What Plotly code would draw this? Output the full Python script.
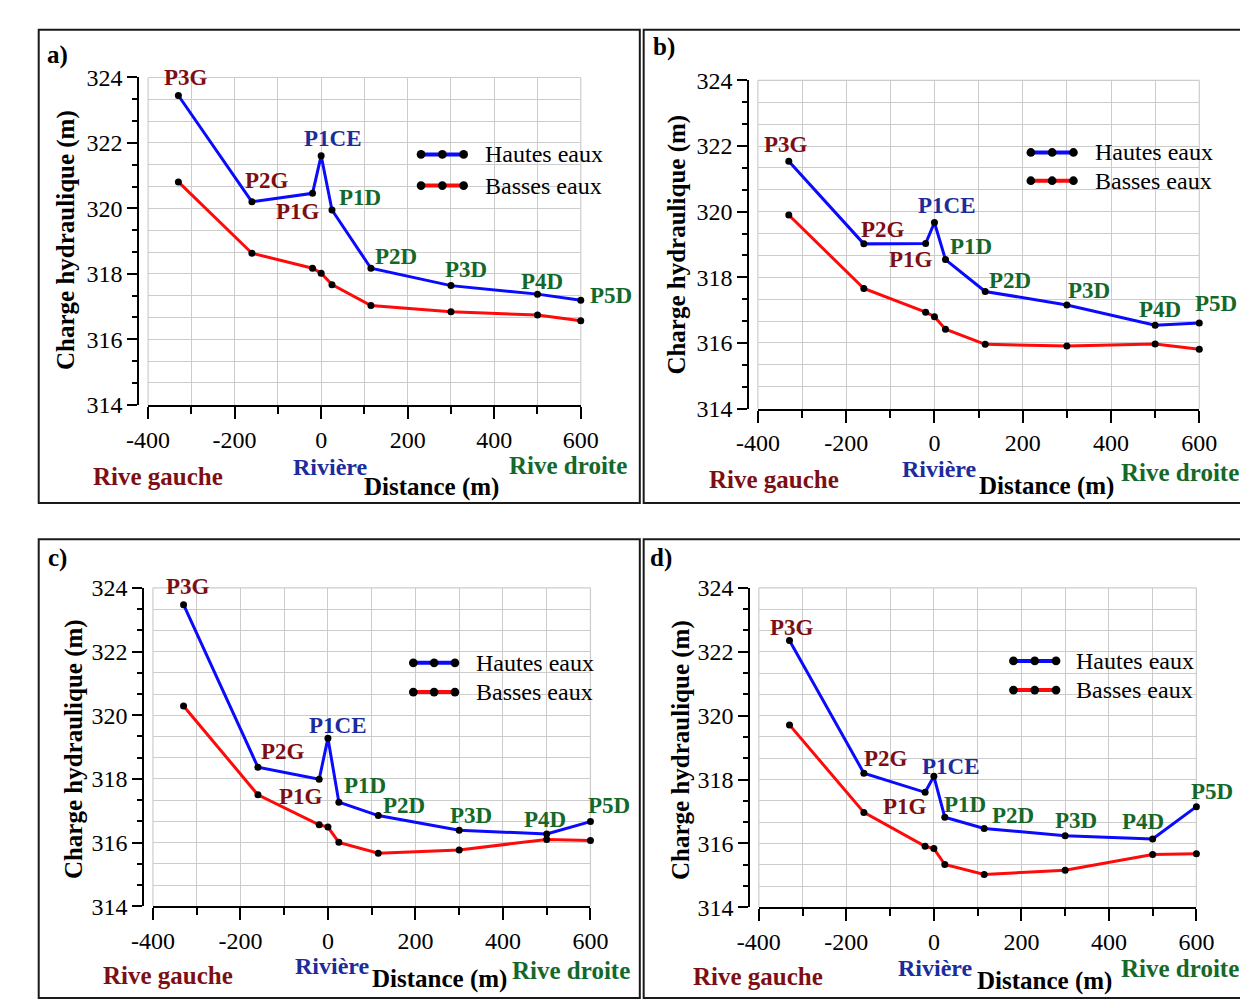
import plotly.graph_objects as go

W, H = 1248, 999
SERIF = "Liberation Serif, Times New Roman, serif"

# ---------------- data ----------------
x_dist = [-330, -160, -20, 0, 25, 115, 300, 500, 600]
point_labels = ["P3G", "P2G", "P1G", "P1CE", "P1D", "P2D", "P3D", "P4D", "P5D"]

hautes_a = [323.45, 320.20, 320.46, 321.61, 319.95, 318.17, 317.64, 317.38, 317.19]
basses_a = [320.81, 318.63, 318.17, 318.02, 317.67, 317.03, 316.84, 316.74, 316.57]
hautes_b = [321.54, 319.02, 319.03, 319.67, 318.54, 317.57, 317.16, 316.54, 316.61]
basses_b = [319.90, 317.66, 316.94, 316.80, 316.42, 315.96, 315.91, 315.97, 315.81]
hautes_c = [323.47, 318.37, 317.99, 319.28, 317.27, 316.85, 316.39, 316.27, 316.66]
basses_c = [320.29, 317.50, 316.56, 316.49, 316.01, 315.67, 315.77, 316.10, 316.07]
hautes_d = [322.35, 318.20, 317.60, 318.10, 316.82, 316.47, 316.24, 316.14, 317.15]
basses_d = [319.71, 316.97, 315.91, 315.84, 315.34, 315.03, 315.16, 315.65, 315.68]

series_names = ["Hautes eaux", "Basses eaux"]
panel_tags = ["a)", "b)", "c)", "d)"]
x_ticks = [-400, -200, 0, 200, 400, 600]
y_ticks = [314, 316, 318, 320, 322, 324]

# ---------------- styles / layout ----------------
BLUE = "#0a0aff"
RED = "#ff0a0a"
C_G = "#7d0f14"
C_CE = "#1c2c9c"
C_D = "#14682a"
label_colors = [C_G, C_G, C_G, C_CE, C_D, C_D, C_D, C_D, C_D]
GRID = "#cccccc"

# pixel geometry of each panel
geo = [
    dict(x0=122, x1=569, y0=58, y1=394, frame=(9, 9, 630, 495), tag=(28, 35),
         ytitle=(37, 225), rg=(132, 468), riv=(310, 458), dist=(415, 478), rd=(556, 456),
         leg=(404, 448, 137, 169, 468),
         off=[(8, -18), (15, -21), (-15, 18), (12, -17), (28, -13), (25, -12), (15, -16), (5, -13), (30, -5)]),
    dict(x0=752, x1=1208, y0=61, y1=398, frame=(634, 9, 1252, 495), tag=(655, 27),
         ytitle=(668, 230), rg=(769, 471), riv=(940, 460), dist=(1050, 477), rd=(1188, 464),
         leg=(1034, 1078, 135, 164, 1098),
         off=[(-3, -17), (19, -14), (-15, 16), (13, -17), (26, -13), (25, -11), (22, -14), (5, -16), (17, -19)]),
    dict(x0=127, x1=579, y0=582, y1=909, frame=(9, 532, 630, 1003), tag=(28, 551),
         ytitle=(45, 748), rg=(143, 980), riv=(313, 970), dist=(423, 984), rd=(559, 975),
         leg=(396, 439, 659, 689, 459),
         off=[(4, -18), (25, -16), (-18, 17), (10, -13), (26, -17), (26, -10), (12, -15), (-2, -15), (19, -16)]),
    dict(x0=753, x1=1205, y0=582, y1=910, frame=(634, 532, 1252, 1003), tag=(652, 551),
         ytitle=(672, 748), rg=(752, 981), riv=(935, 972), dist=(1048, 986), rd=(1188, 973),
         leg=(1016, 1060, 657, 687, 1079),
         off=[(3, -13), (22, -15), (-20, 14), (17, -10), (20, -13), (29, -13), (11, -15), (-10, -17), (16, -15)]),
]

data = [(hautes_a, basses_a), (hautes_b, basses_b), (hautes_c, basses_c), (hautes_d, basses_d)]


def px(x):
    return x / W


def py(y):
    return 1 - y / H


fig = go.Figure()
annotations = []
shapes = []
layout = {}

for i, (g, (hautes, basses)) in enumerate(zip(geo, data)):
    s = "" if i == 0 else str(i + 1)
    xa, ya = "x" + s, "y" + s

    # plot-area edge grid lines (left/top/right), below the data
    for (ex0, ey0, ex1, ey1) in ((0, 0, 0, 1), (0, 1, 1, 1), (1, 0, 1, 1)):
        shapes.append(dict(type="line", xref=xa + " domain", yref=ya + " domain",
                           x0=ex0, y0=ey0, x1=ex1, y1=ey1, layer="below",
                           line=dict(color=GRID, width=1.2)))

    for vals, col, name in ((hautes, BLUE, series_names[0]), (basses, RED, series_names[1])):
        fig.add_trace(go.Scatter(
            x=x_dist, y=vals, mode="lines+markers", name=name,
            line=dict(color=col, width=3),
            marker=dict(color="black", size=7),
            xaxis=xa, yaxis=ya, showlegend=False, cliponaxis=False))

    layout["xaxis" + s] = dict(
        domain=[px(g["x0"]), px(g["x1"])], range=[-400, 600], anchor=ya,
        tickmode="array", tickvals=x_ticks, ticktext=[str(v) for v in x_ticks],
        ticks="outside", ticklen=12, tickwidth=2, tickcolor="black",
        showline=True, linecolor="black", linewidth=2,
        showgrid=True, gridcolor=GRID, gridwidth=1.2, zeroline=False,
        minor=dict(tickmode="linear", tick0=-400, dtick=100, ticks="outside", ticklen=7,
                   tickwidth=2, tickcolor="black", showgrid=True, gridcolor=GRID, gridwidth=1.2),
        tickfont=dict(family=SERIF, size=24, color="black"), fixedrange=True)
    layout["yaxis" + s] = dict(
        domain=[py(g["y1"]), py(g["y0"])], range=[314, 324], anchor="free",
        position=px(g["x0"] - 10),
        tickmode="array", tickvals=y_ticks, ticktext=[str(v) for v in y_ticks],
        ticks="outside", ticklen=10, tickwidth=2, tickcolor="black",
        showline=True, linecolor="black", linewidth=2,
        showgrid=True, gridcolor=GRID, gridwidth=1.2, zeroline=False,
        minor=dict(tickmode="linear", tick0=314, dtick=2 / 3, ticks="outside", ticklen=5,
                   tickwidth=2, tickcolor="black", showgrid=True, gridcolor=GRID, gridwidth=1.2),
        tickfont=dict(family=SERIF, size=24, color="black"), fixedrange=True)

    # point labels (attached to the Hautes eaux points)
    for xv, yv, lab, col, (dx, dy) in zip(x_dist, hautes, point_labels, label_colors, g["off"]):
        annotations.append(dict(
            x=xv, y=yv, xref=xa, yref=ya, text="<b>%s</b>" % lab, showarrow=False,
            xshift=dx, yshift=-dy, xanchor="center", yanchor="middle",
            font=dict(family=SERIF, size=23, color=col)))

    # panel texts
    def txt(pos, text, size, color, angle=0):
        annotations.append(dict(
            x=px(pos[0]), y=py(pos[1]), xref="paper", yref="paper", text=text,
            showarrow=False, xanchor="center", yanchor="middle", textangle=angle,
            font=dict(family=SERIF, size=size, color=color)))

    txt(g["tag"], "<b>%s</b>" % panel_tags[i], 25, "black")
    txt(g["ytitle"], "<b>Charge hydraulique (m)</b>", 25, "black", -90)
    txt(g["rg"], "<b>Rive gauche</b>", 25, C_G)
    txt(g["riv"], "<b>Rivière</b>", 24, C_CE)
    txt(g["dist"], "<b>Distance (m)</b>", 25, "black")
    txt(g["rd"], "<b>Rive droite</b>", 25, C_D)

    # frame
    fx0, fy0, fx1, fy1 = g["frame"]
    shapes.append(dict(type="rect", xref="paper", yref="paper",
                       x0=px(fx0), x1=px(fx1), y0=py(fy1), y1=py(fy0),
                       line=dict(color="#1a1a1a", width=2), fillcolor="rgba(0,0,0,0)"))

    # legend
    lx0, lx1, ly1, ly2, ltx = g["leg"]
    for ly, col, name in ((ly1, BLUE, series_names[0]), (ly2, RED, series_names[1])):
        shapes.append(dict(type="line", xref="paper", yref="paper",
                           x0=px(lx0), x1=px(lx1), y0=py(ly), y1=py(ly),
                           line=dict(color=col, width=4)))
        for cx in (lx0, (lx0 + lx1) / 2, lx1):
            r = 4.5
            shapes.append(dict(type="circle", xref="paper", yref="paper",
                               x0=px(cx - r), x1=px(cx + r), y0=py(ly + r), y1=py(ly - r),
                               line=dict(color="black", width=0), fillcolor="black"))
        annotations.append(dict(
            x=px(ltx), y=py(ly), xref="paper", yref="paper", text=name, showarrow=False,
            xanchor="left", yanchor="middle", font=dict(family=SERIF, size=24, color="black")))

fig.update_layout(
    width=W, height=H, margin=dict(l=0, r=0, t=0, b=0),
    paper_bgcolor="white", plot_bgcolor="white", showlegend=False,
    annotations=annotations, shapes=shapes, **layout)

fig.write_html("out.html")
